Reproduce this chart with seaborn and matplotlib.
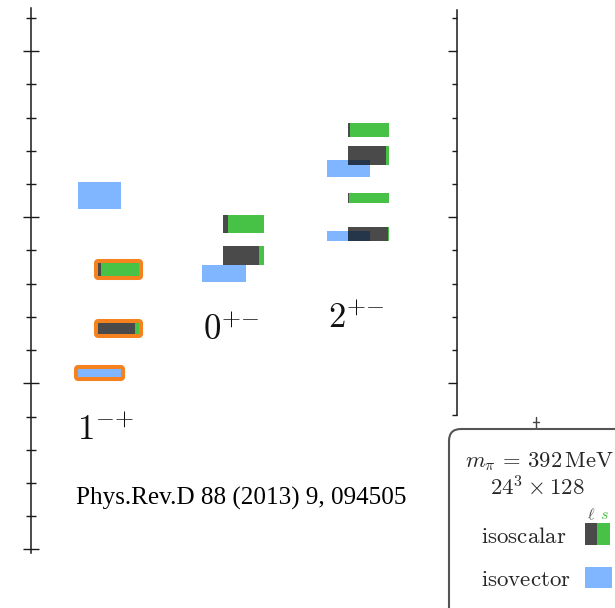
import matplotlib
matplotlib.use("Agg")
import matplotlib.pyplot as plt
import seaborn as sns
from matplotlib.patches import Rectangle, FancyBboxPatch
from matplotlib.lines import Line2D
from matplotlib.ticker import FixedLocator

# ---------------------------------------------------------------------------
# Data: meson spectrum in exotic / hybrid channels (masses in MeV)
# ---------------------------------------------------------------------------
channels = ["$1^{{-}{+}}$", "$0^{{+}{-}}$", "$2^{{+}{-}}$"]

# isoscalar levels: channel index, mass, statistical error, light-quark fraction
isoscalar_channel = [0, 0, 1, 1, 2, 2, 2, 2]
isoscalar_mass = [2343, 2165, 2480, 2384, 2762, 2685, 2557, 2450]
isoscalar_err = [20, 17, 27, 28, 21, 29, 15, 22]
isoscalar_light = [0.08, 0.90, 0.12, 0.87, 0.05, 0.93, 0.02, 0.97]
isoscalar_hybrid = [True, True, False, False, False, False, False, False]

# isovector levels: channel index, mass, statistical error
isovector_channel = [0, 0, 1, 2, 2]
isovector_mass = [2565, 2031, 2331, 2647, 2443]
isovector_err = [41, 12, 25, 25, 14]
isovector_hybrid = [False, True, False, False, False]

major_ticks = [1500, 2000, 2500, 3000]
minor_ticks = [m for m in range(1600, 3200, 100) if m % 500 != 0]

# ---------------------------------------------------------------------------
# Styling
# ---------------------------------------------------------------------------
sns.set_style("white")
plt.rcParams["mathtext.fontset"] = "cm"
plt.rcParams["font.family"] = ["DejaVu Sans"]

GREEN = "#47c247"
BLUE = "#80b6ff"
ORANGE = "#f5821f"
DARK_ALPHA = 0.71
AXIS = "#1a1a1a"

W, H = 615, 608
fig = plt.figure(figsize=(W / 100, H / 100), dpi=100)


def fx(px):
    return px / W


def fy(py):
    return 1 - py / H


def mass_at(py):
    # vertical scale: 0.3322 px per MeV, 2000 MeV at pixel row 383.3
    return 2000 + (383.3 - py) / 0.3322


ax = fig.add_axes([fx(31), 0, fx(457) - fx(31), 1])
ax.set_xlim(-0.70, 2.71)
ax.set_ylim(mass_at(H), mass_at(0))
ax.patch.set_visible(False)

# ---------------------------------------------------------------------------
# Levels
# ---------------------------------------------------------------------------
ISO_W = 0.33
VEC_W = 0.345
VEC_SHIFT = -0.155

# isovector boxes (drawn first, isoscalar boxes overlay them)
for c, m, e, hyb in zip(isovector_channel, isovector_mass, isovector_err, isovector_hybrid):
    x = c + VEC_SHIFT
    if hyb:
        bars = ax.bar(x, 2 * e, bottom=m - e, width=VEC_W, color=ORANGE,
                      edgecolor=ORANGE, linewidth=5.8, zorder=2)
        for b in bars:
            b.set_joinstyle("round")
    ax.bar(x, 2 * e, bottom=m - e, width=VEC_W, color=BLUE, linewidth=0, zorder=3)

for c, m, e, f, hyb in zip(isoscalar_channel, isoscalar_mass, isoscalar_err,
                           isoscalar_light, isoscalar_hybrid):
    x0 = c - ISO_W / 2
    if hyb:
        bars = ax.bar(c, 2 * e, bottom=m - e, width=ISO_W, color=ORANGE,
                      edgecolor=ORANGE, linewidth=5.8, zorder=2)
        for b in bars:
            b.set_joinstyle("round")
        ax.bar(c, 2 * e, bottom=m - e, width=ISO_W, color="white",
               linewidth=0, zorder=2.5)
    # light-quark (ℓ) part on the left, strange (s) part on the right
    ax.bar(x0, 2 * e, bottom=m - e, width=ISO_W * f, align="edge",
           color="black", alpha=DARK_ALPHA, linewidth=0, zorder=4)
    ax.bar(x0 + ISO_W * f, 2 * e, bottom=m - e, width=ISO_W * (1 - f),
           align="edge", color=GREEN, linewidth=0, zorder=4)

# ---------------------------------------------------------------------------
# Axes: left mass axis and right partial axis
# ---------------------------------------------------------------------------
for side in ["top", "bottom", "right"]:
    ax.spines[side].set_visible(False)
ax.spines["left"].set_bounds(mass_at(553), mass_at(8))
ax.spines["left"].set_color(AXIS)
ax.spines["left"].set_linewidth(1.1)
ax.set_xticks([])
ax.yaxis.set_major_locator(FixedLocator(major_ticks))
ax.yaxis.set_minor_locator(FixedLocator(minor_ticks))
ax.tick_params(axis="y", which="major", direction="inout", length=11.5,
               width=1.0, color=AXIS, left=True, right=False, labelleft=False)
ax.tick_params(axis="y", which="minor", direction="inout", length=7.2,
               width=1.0, color=AXIS, left=True, right=False)

ax2 = ax.twinx()
ax2.set_ylim(ax.get_ylim())
for side in ["top", "bottom", "left"]:
    ax2.spines[side].set_visible(False)
right_low = mass_at(415)
ax2.spines["right"].set_bounds(right_low, mass_at(10))
ax2.spines["right"].set_color(AXIS)
ax2.spines["right"].set_linewidth(1.1)
ax2.yaxis.set_major_locator(FixedLocator([2000, 2500, 3000]))
ax2.yaxis.set_minor_locator(FixedLocator([t for t in minor_ticks if t > 2000] + [right_low]))
ax2.tick_params(axis="y", which="major", direction="in", length=6.5,
                width=1.0, color=AXIS, labelright=False)
ax2.tick_params(axis="y", which="minor", direction="in", length=3.6,
                width=1.0, color=AXIS)

# ---------------------------------------------------------------------------
# Channel labels and reference
# ---------------------------------------------------------------------------
label_pos = [(77, 440), (203, 340), (328, 328)]
for lab, (px, py) in zip(channels, label_pos):
    fig.text(fx(px), fy(py), lab, fontsize=25, va="baseline", ha="left",
             color="#111111")

fig.text(fx(76), fy(505), "Phys.Rev.D 88 (2013) 9, 094505",
         family="Liberation Serif", fontsize=18.1, va="baseline", ha="left",
         color="black")

# ---------------------------------------------------------------------------
# Key panel (bottom right)
# ---------------------------------------------------------------------------
inch = fig.dpi_scale_trans
key = FancyBboxPatch((4.49, -0.5), 2.5, (H - 429) / 100 + 0.5,
                     boxstyle="round,pad=0,rounding_size=0.12",
                     transform=inch, facecolor="white", edgecolor="#555555",
                     linewidth=1.5, zorder=5)
fig.add_artist(key)

# small tick of the neighbouring axis poking above the key
fig.add_artist(Line2D([fx(536), fx(536)], [fy(417), fy(429)], transform=fig.transFigure,
                      color="#444444", linewidth=1.0))
fig.add_artist(Line2D([fx(533), fx(539)], [fy(421.5), fy(421.5)], transform=fig.transFigure,
                      color="#444444", linewidth=1.0))

fig.text(fx(465), fy(467), r"$m_\pi \,=\, 392\,\mathrm{MeV}$", fontsize=16.3,
         va="baseline", ha="left", zorder=6)
fig.text(fx(490), fy(496), r"$24^3 \times 128$", fontsize=16.5,
         va="baseline", ha="left", zorder=6)
fig.text(fx(587), fy(519), r"$\ell$", fontsize=11.5, color="#4a4a4a",
         va="baseline", ha="left", zorder=6)
fig.text(fx(600), fy(519), r"$s$", fontsize=11.5, color=GREEN,
         va="baseline", ha="left", zorder=6)
fig.text(fx(481), fy(543), r"$\mathrm{isoscalar}$", fontsize=16.5,
         va="baseline", ha="left", zorder=6)
fig.text(fx(481), fy(586), r"$\mathrm{isovector}$", fontsize=16.5,
         va="baseline", ha="left", zorder=6)

fig.add_artist(Rectangle((5.85, (H - 545) / 100), 0.12, 0.22, transform=inch,
                         facecolor="black", alpha=DARK_ALPHA, linewidth=0, zorder=6))
fig.add_artist(Rectangle((5.97, (H - 545) / 100), 0.13, 0.22, transform=inch,
                         facecolor=GREEN, linewidth=0, zorder=6))
fig.add_artist(Rectangle((5.85, (H - 588) / 100), 0.27, 0.21, transform=inch,
                         facecolor=BLUE, linewidth=0, zorder=6))

fig.savefig("out.png", dpi=100)
